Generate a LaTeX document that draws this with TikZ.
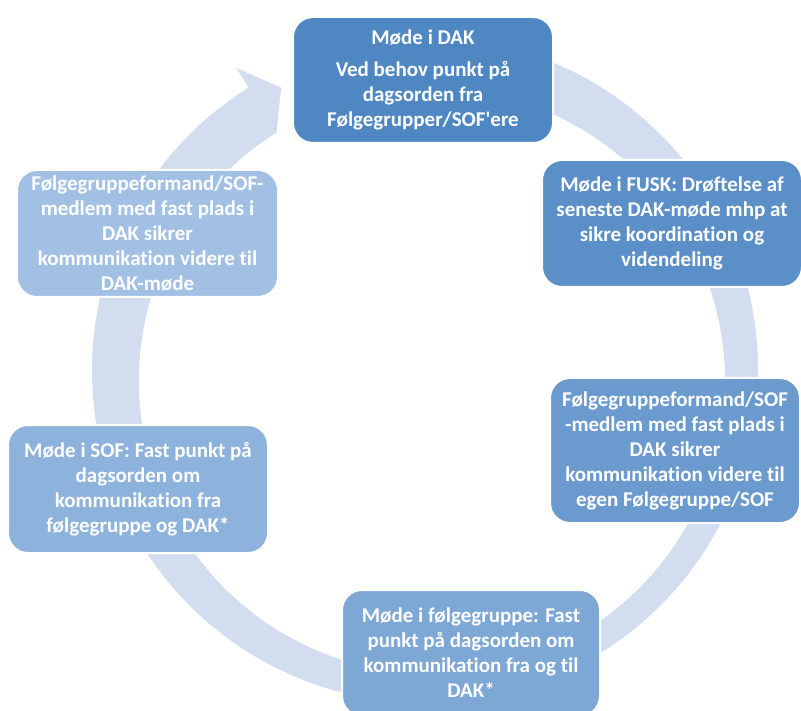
\documentclass[tikz,border=0pt]{standalone}
\usepackage{fontspec}
\setmainfont{Carlito}[Ligatures={NoCommon,TeXOff}]
\definecolor{cA}{HTML}{4F87C3}
\definecolor{cB}{HTML}{5B8FC8}
\definecolor{cC}{HTML}{6B9BCE}
\definecolor{cD}{HTML}{7DA7D5}
\definecolor{cE}{HTML}{8DB2DB}
\definecolor{cF}{HTML}{A2C0E3}
\definecolor{ringcol}{HTML}{D2DEF0}
\begin{document}
\begin{tikzpicture}[x=1pt,y=-1pt,
  box/.style={rounded corners=20pt, draw=white, line width=2pt, text=white,
    align=center, inner sep=0pt,
    font=\fontsize{21}{25}\selectfont\bfseries},
]
\useasboundingbox (0,0) rectangle (801,711);
\clip (0,0) rectangle (801,711);

% continuous cycle ring with its arrow head
\begin{scope}[shift={(425,370)}, yscale=-1]
  \fill[ringcol] (80:333) arc[start angle=80, end angle=-238, radius=333]
    -- (-238:356) -- (-243:317) -- (-238:280)
    arc[start angle=-238, end angle=80, radius=293] -- cycle;
\end{scope}

% process steps
\node[box, fill=cA, minimum width=260, minimum height=126] (dak) at (423,80)
  {Møde i DAK\\[7pt]Ved behov punkt på\\dagsorden fra\\Følgegrupper/SOF'ere};
\node[box, fill=cB, minimum width=260, minimum height=127] (fusk) at (672,223.5)
  {Møde i FUSK: Drøftelse af\\seneste DAK-møde mhp at\\sikre koordination og\\videndeling};
\node[box, fill=cC, minimum width=250, minimum height=145] (formand) at (675,450.5)
  {Følgegruppeformand/SOF\\-medlem med fast plads i\\DAK sikrer\\kommunikation videre til\\egen Følgegruppe/SOF};
\node[box, fill=cD, minimum width=258, minimum height=126] (fg) at (471,653)
  {Møde i følgegruppe: Fast\\punkt på dagsorden om\\kommunikation fra og til\\DAK*};
\node[box, fill=cE, minimum width=260, minimum height=128] (sof) at (138,489)
  {Møde i SOF: Fast punkt på\\dagsorden om\\kommunikation fra\\følgegruppe og DAK*};
\node[box, fill=cF, minimum width=261, minimum height=127] (medlem) at (147.5,233.5)
  {Følgegruppeformand/SOF-\\medlem med fast plads i\\DAK sikrer\\kommunikation videre til\\DAK-møde};
\end{tikzpicture}
\end{document}
